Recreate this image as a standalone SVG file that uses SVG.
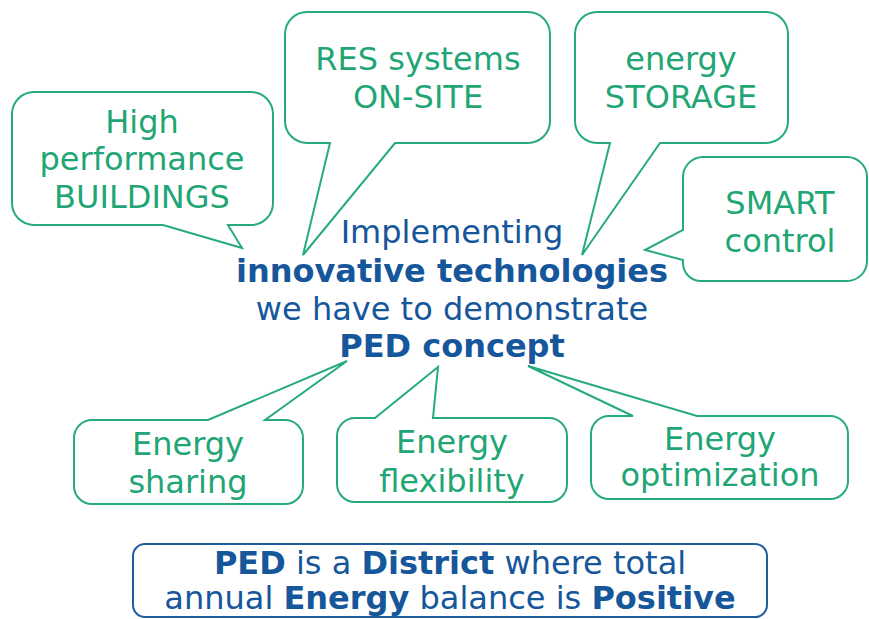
<svg xmlns="http://www.w3.org/2000/svg" width="869" height="619" viewBox="0 0 869 619">
  <style>
    .bubble { fill: #ffffff; stroke: #27ab7b; stroke-width: 2; stroke-linejoin: miter; }
    .gt { font-family: "DejaVu Sans", Verdana, sans-serif; font-size: 32px; fill: #1fa674; text-anchor: middle; }
    .bt { font-family: "DejaVu Sans", Verdana, sans-serif; font-size: 32px; fill: #16569a; text-anchor: middle; }
    .b { font-weight: bold; }
    .defbox { fill: #ffffff; stroke: #1f5c9c; stroke-width: 2; }
    .dt { font-family: "DejaVu Sans", Verdana, sans-serif; font-size: 32px; fill: #16569a; text-anchor: middle; }
  </style>
  <rect width="869" height="619" fill="#ffffff"/>

  <!-- speech-bubble outlines (tails point at the central statement) -->
  <g id="connectors">
    <path id="bubble-buildings" class="bubble" d="M34,92 H251 A22,22 0 0 1 273,114 V203 A22,22 0 0 1 251,225 H228 L242,248 L163,225 H34 A22,22 0 0 1 12,203 V114 A22,22 0 0 1 34,92 Z"/>
    <path id="bubble-res" class="bubble" d="M307,12 H528 A22,22 0 0 1 550,34 V121 A22,22 0 0 1 528,143 H395 L303,255 L330,143 H307 A22,22 0 0 1 285,121 V34 A22,22 0 0 1 307,12 Z"/>
    <path id="bubble-storage" class="bubble" d="M597,12 H766 A22,22 0 0 1 788,34 V121 A22,22 0 0 1 766,143 H660 L582,255 L610,143 H597 A22,22 0 0 1 575,121 V34 A22,22 0 0 1 597,12 Z"/>
    <path id="bubble-smart" class="bubble" d="M703,157 H847 A20,20 0 0 1 867,177 V261 A20,20 0 0 1 847,281 H701 A18,18 0 0 1 683,263 V260 L645,250 L683,230 V177 A20,20 0 0 1 703,157 Z"/>
    <path id="bubble-sharing" class="bubble" d="M92,420 H208 L347,361 L265,420 H285 A18,18 0 0 1 303,438 V486 A18,18 0 0 1 285,504 H92 A18,18 0 0 1 74,486 V438 A18,18 0 0 1 92,420 Z"/>
    <path id="bubble-flexibility" class="bubble" d="M355,418 H375 L438,367 L433,418 H549 A18,18 0 0 1 567,436 V484 A18,18 0 0 1 549,502 H355 A18,18 0 0 1 337,484 V436 A18,18 0 0 1 355,418 Z"/>
    <path id="bubble-optimization" class="bubble" d="M609,416 H633 L528,366 L697,416 H830 A18,18 0 0 1 848,434 V481 A18,18 0 0 1 830,499 H609 A18,18 0 0 1 591,481 V434 A18,18 0 0 1 609,416 Z"/>
  </g>

  <g id="node-buildings">
    <text class="gt" x="142" y="133">High</text>
    <text class="gt" x="142" y="170">performance</text>
    <text class="gt" x="142" y="208">BUILDINGS</text>
  </g>
  <g id="node-res">
    <text class="gt" x="418" y="70">RES systems</text>
    <text class="gt" x="418" y="108">ON-SITE</text>
  </g>
  <g id="node-storage">
    <text class="gt" x="681" y="70">energy</text>
    <text class="gt" x="681" y="108">STORAGE</text>
  </g>
  <g id="node-smart">
    <text class="gt" x="780" y="214">SMART</text>
    <text class="gt" x="780" y="252">control</text>
  </g>

  <g id="node-center">
    <text class="bt" x="452" y="243">Implementing</text>
    <text class="bt b" x="452" y="282">innovative technologies</text>
    <text class="bt" x="452" y="320">we have to demonstrate</text>
    <text class="bt b" x="452" y="357">PED concept</text>
  </g>

  <g id="node-sharing">
    <text class="gt" x="188" y="455">Energy</text>
    <text class="gt" x="188" y="493">sharing</text>
  </g>
  <g id="node-flexibility">
    <text class="gt" x="452" y="453">Energy</text>
    <text class="gt" x="452" y="492">flexibility</text>
  </g>
  <g id="node-optimization">
    <text class="gt" x="720" y="450">Energy</text>
    <text class="gt" x="720" y="486">optimization</text>
  </g>

  <g id="node-definition">
    <rect class="defbox" x="133" y="544" width="634" height="73" rx="12" ry="12"/>
    <text class="dt" x="450" y="574"><tspan class="b">PED</tspan> is a <tspan class="b">District</tspan> where total</text>
    <text class="dt" x="450" y="609">annual <tspan class="b">Energy</tspan> balance is <tspan class="b">Positive</tspan></text>
  </g>
</svg>
